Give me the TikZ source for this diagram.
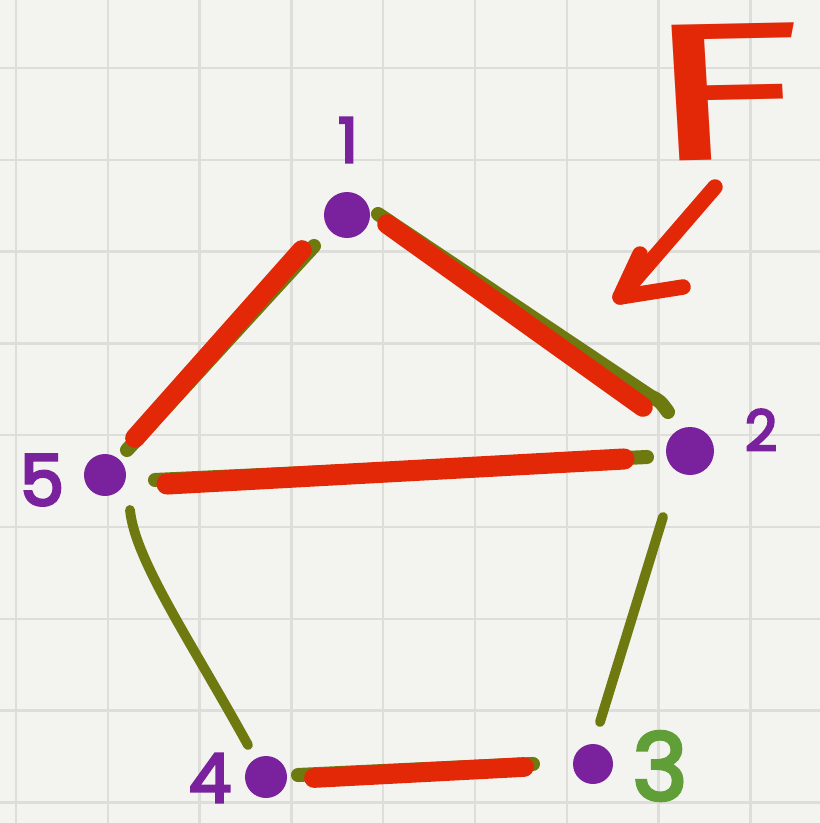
\documentclass[tikz,border=0pt]{standalone}
\usepackage{fontspec}
\setmainfont{Poppins}
\newfontfamily\labfont[FakeBold=4]{Poppins}
\newfontfamily\ffont{Fira Sans}
\usetikzlibrary{calc}
\definecolor{paper}{RGB}{243,243,239}
\definecolor{gridc}{RGB}{221,221,218}
\definecolor{pur}{RGB}{122,34,158}
\definecolor{redc}{RGB}{226,40,6}
\definecolor{olv}{RGB}{110,122,16}
\definecolor{grn}{RGB}{96,158,56}
\begin{document}
\begin{tikzpicture}[x=0.025cm,y=-0.025cm,
  dot/.style={circle,fill=pur,inner sep=0pt,minimum size=#1},
  dot/.default=1.1cm,
  gridline/.style={draw=gridc,line width=1.6pt},
  olvline/.style={draw=olv,line width=7pt,line cap=round},
  olvunder/.style={draw=olv,line width=10pt,line cap=round},
  redline/.style={draw=redc,line width=14pt,line cap=round},
  lab/.style={text=pur,inner sep=0pt},
  marker/.style={draw=redc,line width=11pt,line cap=round,line join=round}]
\fill[paper] (0,0) rectangle (820,823);
\useasboundingbox (0,0) rectangle (820,823);
\foreach \i in {0,...,8}{
  \draw[gridline] ({16+91.8*\i},0) -- ({16+91.8*\i},823);
  \draw[gridline] (0,{68+91.8*\i}) -- (820,{68+91.8*\i});
}
% vertices
\node[dot=1.15cm] (n1) at (347,215) {};
\node[dot=1.2cm]  (n2) at (690,451) {};
\node[dot=1.0cm]  (n3) at (593,764) {};
\node[dot=1.05cm] (n4) at (266,777) {};
\node[dot=1.05cm] (n5) at (105,475) {};
% labels
\node[lab,font=\labfont\fontsize{44}{44}\selectfont] (l1) at (348,140) {1};
\node[lab,font=\labfont\fontsize{40}{40}\selectfont] (l2) at (761,430) {2};
\node[lab,text=grn,font=\labfont\fontsize{66}{66}\selectfont] (l3) at (660,766) {3};
\node[lab,font=\labfont\fontsize{48}{48}\selectfont] (l4) at (210,778) {4};
\node[lab,font=\labfont\fontsize{50}{50}\selectfont] (l5) at (42,480) {5};
% edges: green only
\draw[olvline] ($(n5)+(25,35)$) .. controls ($(n5)+(30,85)$) and ($(n4)+(-76,-137)$) .. ($(n4)+(-18,-32)$);
\draw[olvline] ($(n2)+(-27,66)$) -- ($(n3)+(7,-42)$);
% edges: red over green
\draw[olvunder] ($(n1)+(-33,31)$) -- ($(n5)+(22,-25)$);
\draw[redline]  ($(n1)+(-45,35)$) -- ($(n5)+(30,-37)$);
\draw[olvunder] ($(n1)+(31,-1)$) -- ($(n2)+(-40,-55)$) .. controls ($(n2)+(-30,-50)$) .. ($(n2)+(-22,-39)$);
\draw[redline]  ($(n1)+(40,9)$) -- ($(n2)+(-47,-44)$);
\draw[olvunder] ($(n5)+(50,5)$) -- ($(n2)+(-43,6)$);
\draw[redline,line width=15pt]  ($(n5)+(62,9)$) -- ($(n2)+(-66,8)$);
\draw[olvunder] ($(n4)+(32,-2)$) -- ($(n3)+(-60,0)$);
\draw[redline]  ($(n4)+(48,1)$) -- ($(n3)+(-69,3)$);
% F and arrow
\node[text=redc,inner sep=0pt,font=\ffont\fontsize{140}{140}\selectfont,xscale=1.7,rotate=2] (F) at (725,92) {F};
\coordinate (tip) at ($(n2)+(-70,-154)$);
\draw[marker] (715,187) -- (tip);
\draw[marker] (640,254) -- (tip) -- (683,287);
\end{tikzpicture}
\end{document}
